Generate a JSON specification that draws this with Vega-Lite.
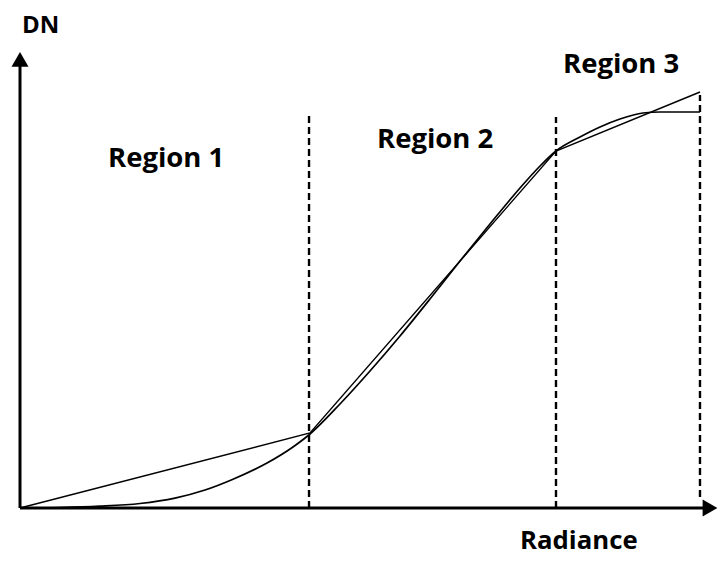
{
  "$schema": "https://vega.github.io/schema/vega-lite/v6.json",
  "width": 720,
  "height": 564,
  "padding": 0,
  "autosize": {"type": "none"},
  "background": "white",
  "config": {"view": {"stroke": null}},
  "datasets": {
    "curve": [
      {"radiance": 0, "dn": 0},
      {"radiance": 5.71, "dn": 0.1},
      {"radiance": 11.43, "dn": 0.4},
      {"radiance": 17.14, "dn": 1.0},
      {"radiance": 22.14, "dn": 2.2},
      {"radiance": 26.43, "dn": 4.0},
      {"radiance": 30.43, "dn": 6.4},
      {"radiance": 35.29, "dn": 10.0},
      {"radiance": 39.0, "dn": 13.56},
      {"radiance": 41.43, "dn": 16.44},
      {"radiance": 45.71, "dn": 23.11},
      {"radiance": 50.0, "dn": 30.44},
      {"radiance": 54.29, "dn": 38.22},
      {"radiance": 58.57, "dn": 46.44},
      {"radiance": 62.86, "dn": 54.89},
      {"radiance": 67.14, "dn": 63.11},
      {"radiance": 71.43, "dn": 71.11},
      {"radiance": 74.29, "dn": 76.0},
      {"radiance": 76.57, "dn": 79.33},
      {"radiance": 80.0, "dn": 82.44},
      {"radiance": 82.86, "dn": 84.67},
      {"radiance": 85.71, "dn": 86.44},
      {"radiance": 89.0, "dn": 87.78},
      {"radiance": 91.43, "dn": 88.0},
      {"radiance": 97.14, "dn": 88.0}
    ],
    "segments": [
      {"radiance": 0, "dn": 0},
      {"radiance": 41.43, "dn": 16.67},
      {"radiance": 76.57, "dn": 79.33},
      {"radiance": 97.14, "dn": 92.44}
    ],
    "dividers": [
      {"radiance": 41.29, "dn_from": 0, "dn_to": 87.33},
      {"radiance": 76.57, "dn_from": 0, "dn_to": 86.9},
      {"radiance": 97.14, "dn_from": 2.44, "dn_to": 91.8}
    ],
    "axes": [
      {"r1": 0, "r2": 0, "d1": 0, "d2": 99.0},
      {"r1": 0, "r2": 97.9, "d1": 0, "d2": 0}
    ],
    "arrows": [
      {"radiance": 0, "dn": 99.7, "dir": "triangle-up"},
      {"radiance": 98.57, "dn": 0, "dir": "triangle-right"}
    ],
    "labels": [
      {"radiance": 0.29, "dn": 105.6, "text": "DN", "kind": "vertical axis"},
      {"radiance": 71.43, "dn": -9.11, "text": "Radiance", "kind": "horizontal axis"},
      {"radiance": 12.57, "dn": 75.8, "text": "Region 1", "kind": "region"},
      {"radiance": 51.0, "dn": 80.0, "text": "Region 2", "kind": "region"},
      {"radiance": 77.57, "dn": 96.7, "text": "Region 3", "kind": "region"}
    ]
  },
  "layer": [
    {
      "data": {"name": "dividers"},
      "mark": {"type": "rule", "color": "black", "strokeWidth": 2.4, "strokeDash": [7, 4]},
      "encoding": {
        "x": {"field": "radiance", "type": "quantitative", "scale": {"domain": [-2.857, 100], "nice": false, "zero": false}, "axis": null},
        "y": {"field": "dn_from", "type": "quantitative", "scale": {"domain": [-12.444, 112.889], "nice": false, "zero": false}, "axis": null},
        "y2": {"field": "dn_to"}
      }
    },
    {
      "data": {"name": "segments"},
      "mark": {"type": "line", "color": "black", "strokeWidth": 1.4},
      "encoding": {
        "x": {"field": "radiance", "type": "quantitative"},
        "y": {"field": "dn", "type": "quantitative"}
      }
    },
    {
      "data": {"name": "curve"},
      "mark": {"type": "line", "color": "black", "strokeWidth": 1.7, "interpolate": "monotone"},
      "encoding": {
        "x": {"field": "radiance", "type": "quantitative"},
        "y": {"field": "dn", "type": "quantitative"}
      }
    },
    {
      "data": {"name": "axes"},
      "mark": {"type": "rule", "color": "black", "strokeWidth": 3},
      "encoding": {
        "x": {"field": "r1", "type": "quantitative"},
        "x2": {"field": "r2"},
        "y": {"field": "d1", "type": "quantitative"},
        "y2": {"field": "d2"}
      }
    },
    {
      "data": {"name": "arrows"},
      "mark": {"type": "point", "filled": true, "color": "black", "size": 290, "opacity": 1},
      "encoding": {
        "x": {"field": "radiance", "type": "quantitative"},
        "y": {"field": "dn", "type": "quantitative"},
        "shape": {"field": "dir", "type": "nominal", "scale": {"domain": ["triangle-up", "triangle-right"], "range": ["triangle-up", "triangle-right"]}, "legend": null}
      }
    },
    {
      "data": {"name": "labels"},
      "mark": {"type": "text", "align": "left", "baseline": "alphabetic", "font": "Open Sans", "fontWeight": "bold", "color": "black"},
      "encoding": {
        "x": {"field": "radiance", "type": "quantitative"},
        "y": {"field": "dn", "type": "quantitative"},
        "text": {"field": "text"},
        "size": {"field": "kind", "type": "nominal", "scale": {"domain": ["vertical axis", "horizontal axis", "region"], "range": [24, 27.5, 26]}, "legend": null}
      }
    }
  ]
}
